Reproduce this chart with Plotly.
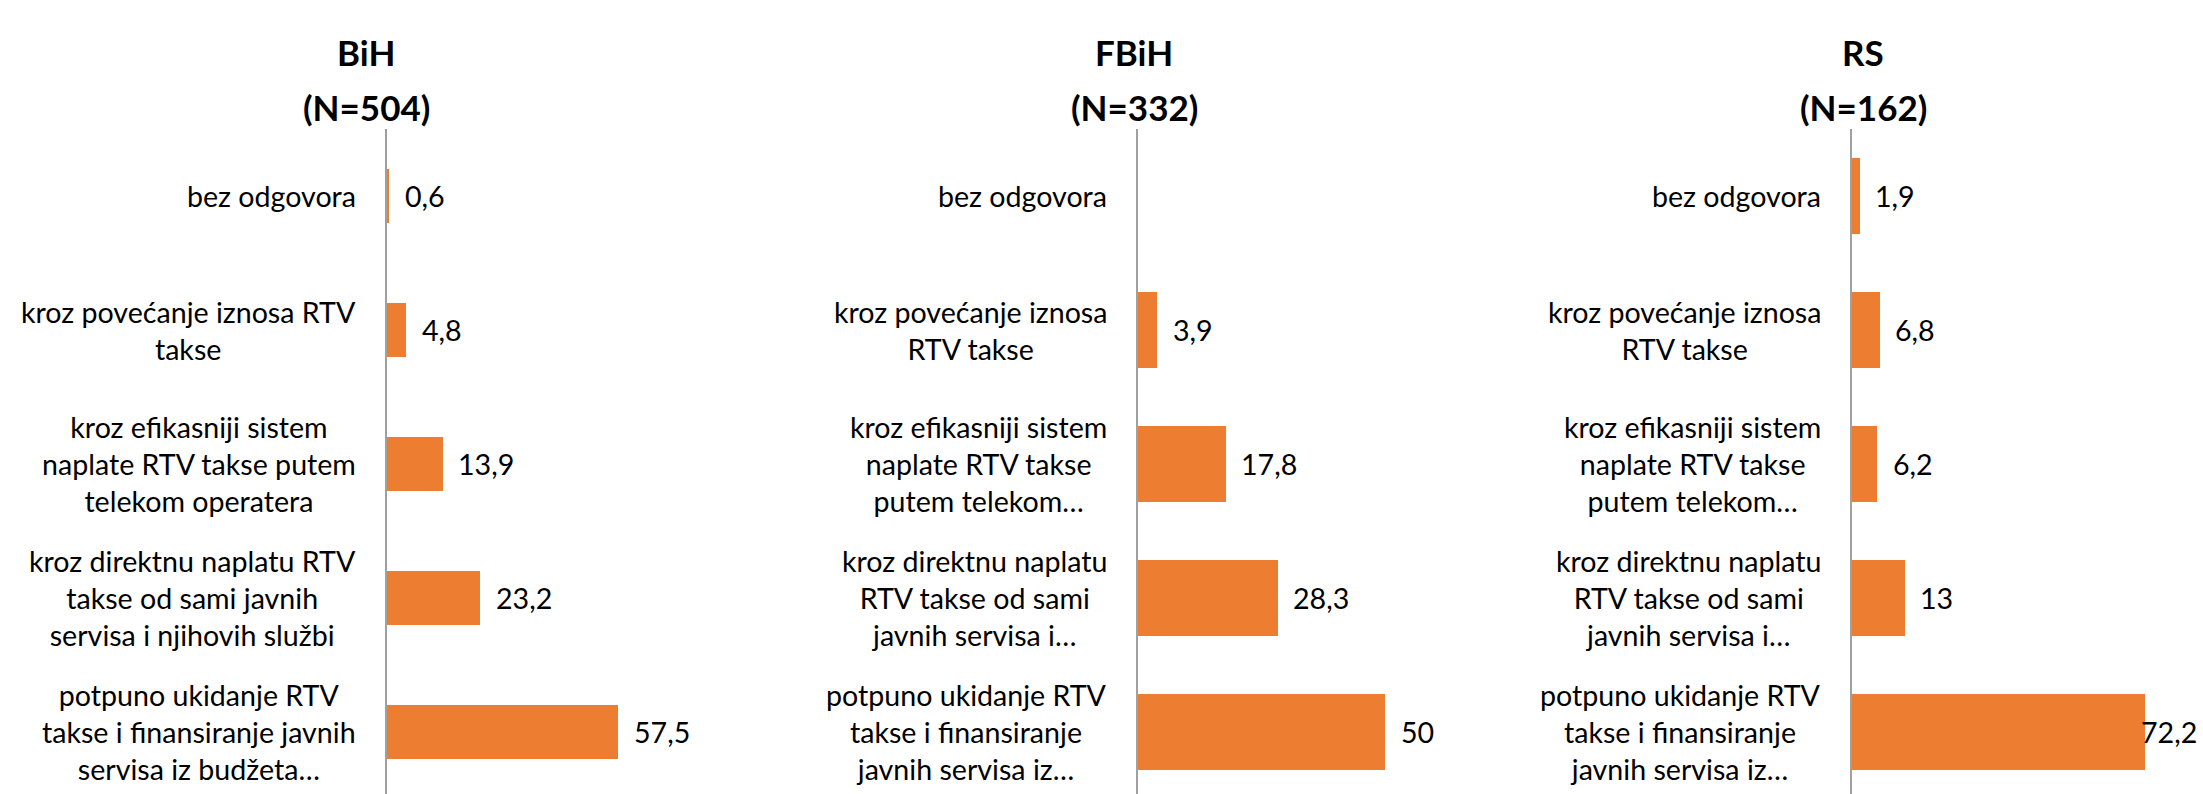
import plotly.graph_objects as go

# Survey answers: how public broadcasting should be financed
answers = [
    "bez odgovora",
    "kroz povećanje iznosa RTV takse",
    "kroz efikasniji sistem naplate RTV takse putem telekom operatera",
    "kroz direktnu naplatu RTV takse od sami javnih servisa i njihovih službi",
    "potpuno ukidanje RTV takse i finansiranje javnih servisa iz budžeta",
]

# Category labels as wrapped for each panel
labels_bih = [
    "bez odgovora",
    "kroz povećanje iznosa RTV<br>takse",
    "kroz efikasniji sistem<br>naplate RTV takse putem<br>telekom operatera",
    "kroz direktnu naplatu RTV<br>takse od sami javnih<br>servisa i njihovih službi",
    "potpuno ukidanje RTV<br>takse i finansiranje javnih<br>servisa iz budžeta…",
]
labels_entity = [
    "bez odgovora",
    "kroz povećanje iznosa<br>RTV takse",
    "kroz efikasniji sistem<br>naplate RTV takse<br>putem telekom…",
    "kroz direktnu naplatu<br>RTV takse od sami<br>javnih servisa i…",
    "potpuno ukidanje RTV<br>takse i finansiranje<br>javnih servisa iz…",
]

# Percentages per region
values_bih = [0.6, 4.8, 13.9, 23.2, 57.5]
values_fbih = [None, 3.9, 17.8, 28.3, 50]
values_rs = [1.9, 6.8, 6.2, 13, 72.2]

regions = ["BiH", "FBiH", "RS"]
sample_sizes = [504, 332, 162]

W, H = 2203, 794
PLOT_TOP = 129
ORANGE = "#ED7D31"
FONT = "Lato"
LABEL_SIZE = 28.6
TITLE_SIZE = 35
TITLE_LINE1_Y = 52   # px from top, centre of region name
TITLE_LINE2_Y = 107  # px from top, centre of sample size

# Pixel geometry of each small chart: axis position, scale extent, bar thickness
panels = [
    dict(values=values_bih, labels=labels_bih, left=386.5, xmax=70, ppu=4.02, bar=0.40, title_x=366),
    dict(values=values_fbih, labels=labels_entity, left=1137.5, xmax=60, ppu=4.94, bar=0.567, title_x=1134),
    dict(values=values_rs, labels=labels_entity, left=1851.5, xmax=80, ppu=4.06, bar=0.567, title_x=1863),
]

band = 134.0
span = (H - PLOT_TOP) / band
y_range = [4.5 - span, 4.5]
order = answers[::-1]  # bottom-to-top

fig = go.Figure()
annotations = []


def fmt(v):
    return f"{v:g}".replace(".", ",")


for i, (p, region, n) in enumerate(zip(panels, regions, sample_sizes)):
    k = "" if i == 0 else str(i + 1)
    xa, ya = "x" + k, "y" + k
    right = p["left"] + p["xmax"] * p["ppu"]

    fig.add_trace(go.Bar(
        x=p["values"], y=answers, orientation="h",
        marker=dict(color=ORANGE, line=dict(width=0)),
        width=p["bar"], xaxis=xa, yaxis=ya, showlegend=False,
        hoverinfo="x+y",
    ))

    fig.layout["xaxis" + k] = dict(
        domain=[p["left"] / W, right / W], range=[0, p["xmax"]],
        visible=False, anchor=ya, fixedrange=True,
    )
    fig.layout["yaxis" + k] = dict(
        domain=[0, 1 - PLOT_TOP / H], type="category",
        categoryorder="array", categoryarray=order, range=y_range,
        showticklabels=False, ticks="", showgrid=False, zeroline=False,
        showline=True, linecolor="#A0A0A0", linewidth=1.5,
        anchor=xa, fixedrange=True,
    )

    # Category labels, centred lines, right edge just left of the axis
    for ans, lab in zip(answers, p["labels"]):
        annotations.append(dict(
            x=0, y=ans, xref=xa, yref=ya, text=lab, showarrow=False,
            xanchor="right", yanchor="middle", align="center", xshift=-29,
            font=dict(family=FONT, size=LABEL_SIZE, color="#000000"),
        ))

    # Value labels at the end of each bar, kept inside the canvas
    for ans, v in zip(answers, p["values"]):
        if v is None:
            continue
        txt = fmt(v)
        end_px = p["left"] + v * p["ppu"]
        est_w = len(txt) * 0.55 * LABEL_SIZE
        if end_px + 14 + est_w > W:
            annotations.append(dict(
                x=1, y=ans, xref="paper", yref=ya, text=txt, showarrow=False,
                xanchor="right", yanchor="middle", xshift=-4,
                font=dict(family=FONT, size=LABEL_SIZE, color="#000000"),
            ))
        else:
            annotations.append(dict(
                x=v, y=ans, xref=xa, yref=ya, text=txt, showarrow=False,
                xanchor="left", yanchor="middle", xshift=14,
                font=dict(family=FONT, size=LABEL_SIZE, color="#000000"),
            ))

    # Panel title on two lines
    for txt, ypx in ((region, TITLE_LINE1_Y), (f"(N={n})", TITLE_LINE2_Y)):
        annotations.append(dict(
            x=p["title_x"] / W, y=1 - ypx / H, xref="paper", yref="paper",
            text=f"<b>{txt}</b>", showarrow=False,
            xanchor="center", yanchor="middle",
            font=dict(family=FONT, size=TITLE_SIZE, color="#000000"),
        ))

fig.update_layout(
    width=W, height=H, margin=dict(l=0, r=0, t=0, b=0),
    paper_bgcolor="white", plot_bgcolor="white",
    annotations=annotations, bargap=0,
)

fig.write_html("out.html", config={"displayModeBar": False})
